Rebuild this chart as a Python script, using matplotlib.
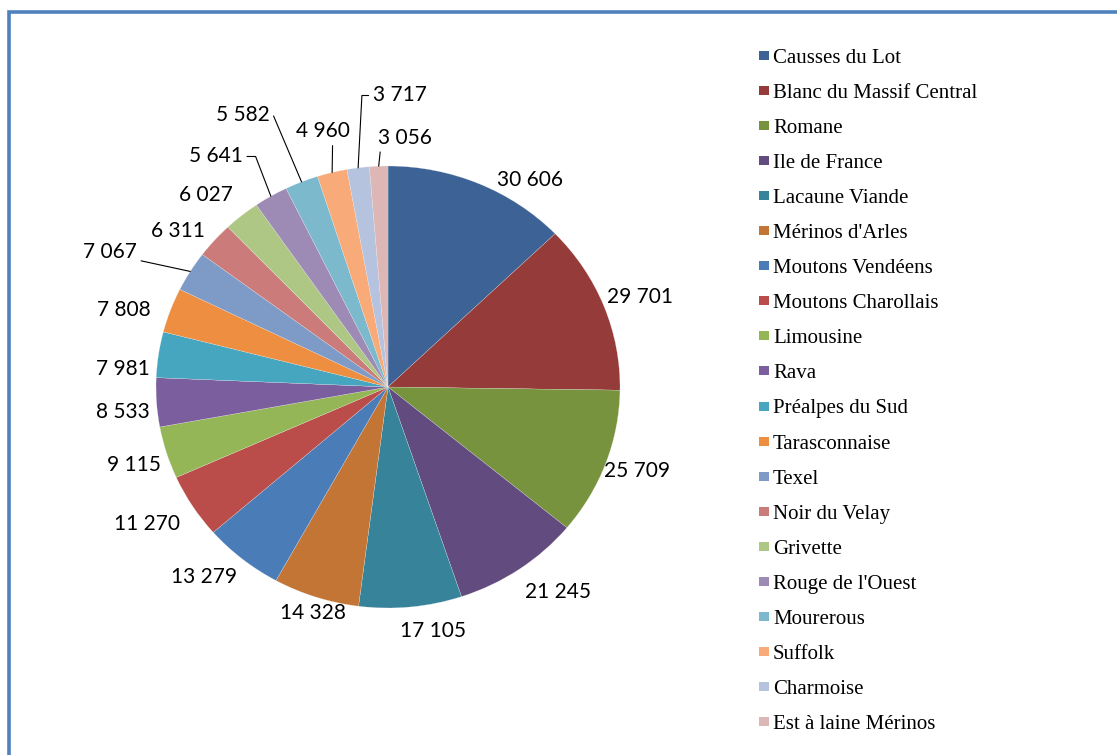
import matplotlib.pyplot as plt
import numpy as np
from matplotlib.patches import Rectangle

# Effectifs de brebis par race
races = ['Causses du Lot', 'Blanc du Massif Central', 'Romane', 'Ile de France',
         'Lacaune Viande', "Mérinos d'Arles", 'Moutons Vendéens', 'Moutons Charollais',
         'Limousine', 'Rava', 'Préalpes du Sud', 'Tarasconnaise', 'Texel',
         'Noir du Velay', 'Grivette', "Rouge de l'Ouest", 'Mourerous', 'Suffolk',
         'Charmoise', 'Est à laine Mérinos']
effectifs = [30606, 29701, 25709, 21245, 17105, 14328, 13279, 11270, 9115, 8533,
             7981, 7808, 7067, 6311, 6027, 5641, 5582, 4960, 3717, 3056]

couleurs = ['#3D6396', '#953B39', '#77933E', '#624B7E', '#37849A', '#C27535',
            '#4A7CB8', '#BA4C49', '#95B657', '#7B5E9E', '#47A6BF', '#EE8E40',
            '#7E9BC8', '#CA7B7A', '#AEC784', '#9D8AB5', '#7DB9CD', '#F8AA78',
            '#B6C3DF', '#DDB6B6']

# placement des etiquettes : decalage angulaire (degres, sens horaire) et rayon
lab_shift = [10, 1, -0.8, -3.8, -4.4, -0.6, 3.9, 1.9, -0.7, -1.7,
             -4.4, -3.3, -4.5, -3.6, -2.9, -5.1, -5.1, 0.3, 9.6, 6]
lab_radius = [1.12, 1.16, 1.14, 1.18, 1.12, 1.07, 1.17, 1.21, 1.15, 1.15,
              1.145, 1.19, 1.345, 1.15, 1.17, 1.28, 1.38, 1.19, 1.32, 1.13]

# lignes de rappel : index -> (relpos, connectionstyle)
leaders = {
    12: ((1, 0.1), 'arc3'),
    15: ((1, 0.5), 'angle,angleA=0,angleB=-69,rad=0'),
    16: ((1, 0.5), 'angle,angleA=0,angleB=-67,rad=0'),
    17: ((0.68, 0), 'arc3'),
    18: ((0, 0.5), 'angle,angleA=0,angleB=-93,rad=0'),
    19: ((0, 0.5), 'angle,angleA=0,angleB=-96,rad=0'),
}

W, H = 1117, 755
fig = plt.figure(figsize=(W / 100, H / 100), dpi=100)

# pie slightly wider than tall, like the original
cx, cy, rx, ry, span = 388, 387, 232, 221, 1.6
ax = fig.add_axes([(cx - span * rx) / W, (H - cy - span * ry) / H,
                   2 * span * rx / W, 2 * span * ry / H])

wedges, _ = ax.pie(effectifs, colors=couleurs, startangle=90, counterclock=False,
                   wedgeprops=dict(edgecolor='#f4f4f4', linewidth=0.15))
ax.set_aspect('auto')
ax.set_xlim(-span, span)
ax.set_ylim(-span, span)
ax.axis('off')

for i, (w, v) in enumerate(zip(wedges, effectifs)):
    mid = np.deg2rad((w.theta1 + w.theta2) / 2)
    ang = mid - np.deg2rad(lab_shift[i])
    r = lab_radius[i]
    txt = f'{v:,}'.replace(',', ' ')
    pos = (r * np.cos(ang), r * np.sin(ang))
    if i in leaders:
        relpos, cstyle = leaders[i]
        ax.annotate(txt, xy=(np.cos(mid), np.sin(mid)), xytext=pos,
                    ha='center', va='center', fontsize=15, family='Lato',
                    arrowprops=dict(arrowstyle='-', color='black', lw=0.8,
                                    relpos=relpos, connectionstyle=cstyle,
                                    shrinkA=1, shrinkB=0))
    else:
        ax.text(*pos, txt, ha='center', va='center', fontsize=15, family='Lato')

# legende a droite
for i, (nom, c) in enumerate(zip(races, couleurs)):
    top = 51 + i * 35.05
    fig.add_artist(Rectangle((759 / W, 1 - (top + 9) / H), 10 / W, 9 / H,
                             transform=fig.transFigure, facecolor=c, edgecolor='none'))
    fig.text(773 / W, 1 - (top + 12) / H, nom, ha='left', va='baseline',
             fontsize=15, family='Liberation Serif')

# cadre bleu
fig.add_artist(Rectangle((9.5 / W, -0.05), 1.1, 1.05 - 12 / H, transform=fig.transFigure,
                         fill=False, edgecolor='#4F81BD', linewidth=2.6))

fig.savefig('out.png', dpi=100)
